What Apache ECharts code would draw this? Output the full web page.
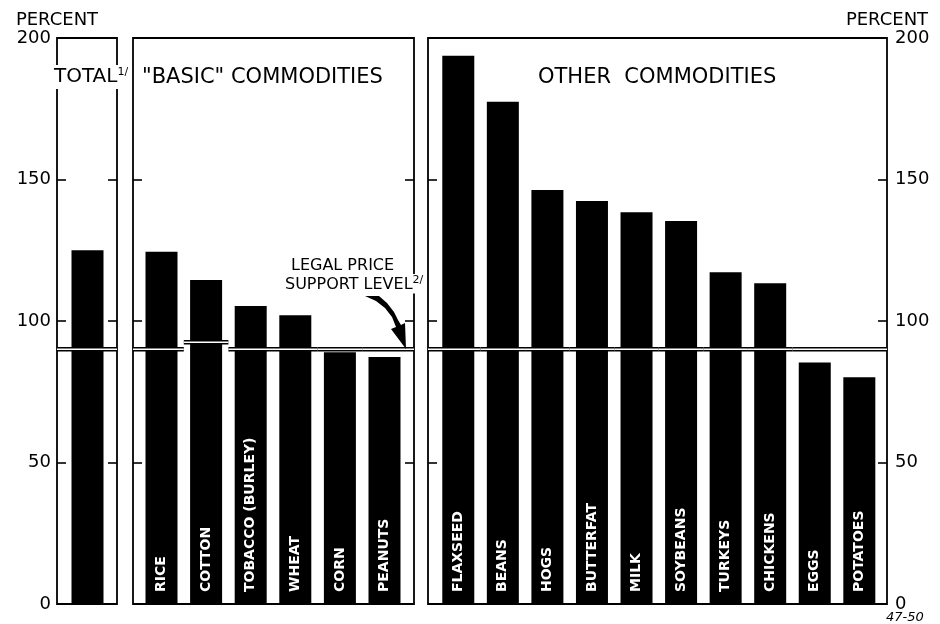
<!DOCTYPE html>
<html>
<head>
<meta charset="utf-8">
<script src="https://cdn.jsdelivr.net/npm/echarts@6.0.0/dist/echarts.min.js"></script>
<style>
html,body{margin:0;padding:0;background:#fff;}
#chart{width:940px;height:624px;}
</style>
</head>
<body>
<div id="chart"></div>
<script>
// ---- data ----
const totalCats = ['TOTAL'];
const totalValues = [125];
const totalSupport = [90];

const basicCats = ['RICE', 'COTTON', 'TOBACCO (BURLEY)', 'WHEAT', 'CORN', 'PEANUTS'];
const basicValues = [124.5, 114.5, 105.3, 102, 89, 87.3];
const basicSupport = [90, 92.5, 90, 90, 90, 90];

const otherCats = ['FLAXSEED', 'BEANS', 'HOGS', 'BUTTERFAT', 'MILK', 'SOYBEANS', 'TURKEYS', 'CHICKENS', 'EGGS', 'POTATOES'];
const otherValues = [193.7, 177.5, 146.3, 142.4, 138.4, 135.3, 117.2, 113.3, 85.3, 80.1];
const otherSupport = [90, 90, 90, 90, 90, 90, 90, 90, 90, 90];

const yTickValues = [0, 50, 100, 150, 200];
const axisName = 'PERCENT';

// ---- layout ----
const FONT = 'DejaVu Sans';
const TOP = 38, HEIGHT = 566;
const panels = [
  {frame: {left: 57, width: 60}, data: {left: 65.2, width: 44.6}, cats: totalCats, vals: totalValues, sup: totalSupport, labels: false},
  {frame: {left: 133, width: 281}, data: {left: 139.2, width: 267.6}, cats: basicCats, vals: basicValues, sup: basicSupport, labels: true},
  {frame: {left: 428, width: 459}, data: {left: 436, width: 445.6}, cats: otherCats, vals: otherValues, sup: otherSupport, labels: true}
];

const grid = [], xAxis = [], yAxis = [], series = [];
const yMin = yTickValues[0], yMax = yTickValues[yTickValues.length - 1];
const yInterval = yTickValues[1] - yTickValues[0];

panels.forEach((p, i) => {
  grid.push({left: p.frame.left, top: TOP, width: p.frame.width, height: HEIGHT, show: true,
    borderColor: '#000', borderWidth: 1.8, backgroundColor: 'transparent'});
});
panels.forEach((p, i) => {
  grid.push({left: p.data.left, top: TOP, width: p.data.width, height: HEIGHT, show: false});
});

panels.forEach((p, i) => {
  xAxis.push({gridIndex: i, type: 'category', data: [''], show: false});
  xAxis.push({gridIndex: 3 + i, type: 'category', data: p.cats, show: false});
  const tick = {show: true, inside: true, length: 9, lineStyle: {color: '#000', width: 1.6}};
  const lbl = {fontFamily: FONT, fontSize: 18, color: '#000'};
  const nameStyle = {fontFamily: FONT, fontSize: 18, color: '#000'};
  yAxis.push({gridIndex: i, type: 'value', min: yMin, max: yMax, interval: yInterval, position: 'left',
    axisLine: {show: false}, axisTick: tick, splitLine: {show: false},
    axisLabel: Object.assign({show: i === 0, margin: 6}, lbl),
    name: i === 0 ? axisName : '', nameLocation: 'end', nameGap: 8, nameTextStyle: nameStyle});
  yAxis.push({gridIndex: i, type: 'value', min: yMin, max: yMax, interval: yInterval, position: 'right',
    axisLine: {show: false}, axisTick: tick, splitLine: {show: false},
    axisLabel: Object.assign({show: i === 2, margin: 8}, lbl),
    name: i === 2 ? axisName : '', nameLocation: 'end', nameGap: 8, nameTextStyle: nameStyle});
  yAxis.push({gridIndex: 3 + i, type: 'value', min: yMin, max: yMax, show: false});
});

panels.forEach((p, i) => {
  const padL = p.data.left - p.frame.left;
  const padR = (p.frame.left + p.frame.width) - (p.data.left + p.data.width);
  const n = p.cats.length;
  series.push({
    type: 'bar', xAxisIndex: 2 * i + 1, yAxisIndex: 3 * i + 2,
    data: p.vals, barWidth: 32, itemStyle: {color: '#000'}, silent: true,
    label: {show: p.labels, position: 'insideBottom', distance: 12, rotate: 90,
      align: 'left', verticalAlign: 'middle', color: '#fff', fontFamily: FONT,
      fontWeight: 'bold', fontSize: 14, formatter: (q) => q.name}
  });
  series.push({
    type: 'custom', xAxisIndex: 2 * i + 1, yAxisIndex: 3 * i + 2, z: 4, clip: false, silent: true,
    data: p.sup.map((v, k) => [p.cats[k], v]),
    renderItem: function (params, api) {
      const c = api.coord([api.value(0), api.value(1)]);
      const bw = api.size([1, 0])[0];
      let x0 = c[0] - bw / 2, x1 = c[0] + bw / 2;
      if (params.dataIndex === 0) x0 -= padL;
      if (params.dataIndex === n - 1) x1 += padR;
      return {type: 'group', children: [
        {type: 'rect', shape: {x: x0, y: c[1] - 2.3, width: x1 - x0, height: 4.6}, style: {fill: '#000'}},
        {type: 'rect', shape: {x: x0, y: c[1] - 0.8, width: x1 - x0, height: 1.6}, style: {fill: '#fff'}}
      ]};
    }
  });
});

const titleStyle = {fontFamily: FONT, fontWeight: 'normal', color: '#000'};
const title = [
  {text: 'TOTAL{sup|1/}', left: 52, top: 65, padding: [2, 2, 2, 2], backgroundColor: '#fff',
    textStyle: Object.assign({fontSize: 20, rich: {sup: {fontFamily: FONT, fontSize: 11, color: '#000', padding: [0, 0, 9, 0]}}}, titleStyle)},
  {text: '"BASIC" COMMODITIES', left: 142, top: 67, padding: 0, textStyle: Object.assign({fontSize: 21}, titleStyle)},
  {text: 'OTHER  COMMODITIES', left: 538, top: 67, padding: 0, textStyle: Object.assign({fontSize: 21}, titleStyle)},
  {text: 'LEGAL PRICE', left: 291, top: 258, padding: 0, textStyle: Object.assign({fontSize: 16}, titleStyle)},
  {text: 'SUPPORT LEVEL{sup|2/}', left: 283, top: 274, padding: [1, 2, 1, 2], backgroundColor: '#fff',
    textStyle: Object.assign({fontSize: 16, rich: {sup: {fontFamily: FONT, fontSize: 11, color: '#000', padding: [0, 0, 8, 0]}}}, titleStyle)},
  {text: '47-50', left: 886, top: 611, padding: 0, textStyle: Object.assign({fontSize: 13, fontStyle: 'italic'}, titleStyle)}
];

const graphic = [{
  type: 'polygon', z: 100,
  shape: {points: [[365, 296], [379, 296], [387, 303], [394, 312], [398, 320], [401, 325], [405, 323], [406, 349],
    [391, 329], [396, 327], [392, 317], [385, 308], [376, 301]]},
  style: {fill: '#000'}
}];

const chart = echarts.init(document.getElementById('chart'), null, {renderer: 'canvas'});
chart.setOption({animation: false, backgroundColor: '#fff', title, grid, xAxis, yAxis, series, graphic});
</script>
</body>
</html>
